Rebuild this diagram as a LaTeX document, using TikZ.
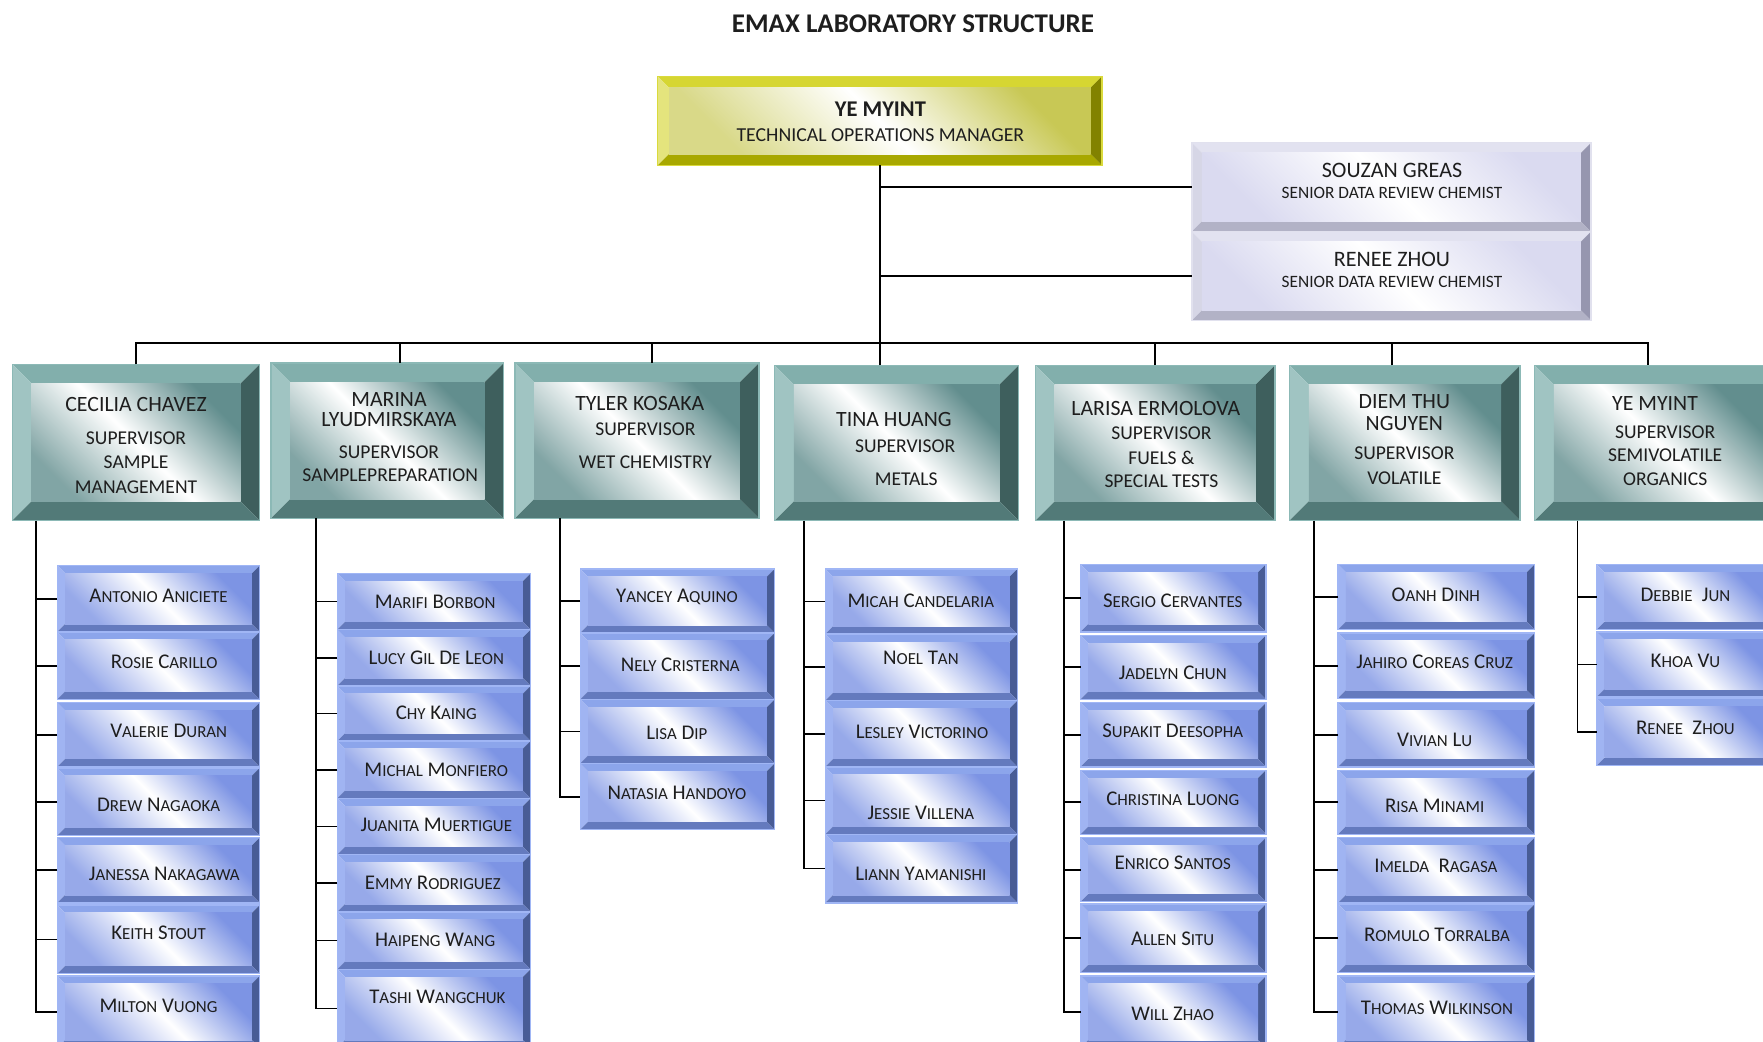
\documentclass[tikz,border=0pt]{standalone}
\usepackage{fontspec}
\setmainfont{Carlito}
% yellow
\definecolor{ylt}{RGB}{214,214,50}
\definecolor{yll}{RGB}{228,228,125}
\definecolor{ylr}{RGB}{130,130,0}
\definecolor{ylb}{RGB}{168,168,0}
\definecolor{yle}{RGB}{218,218,60}
\definecolor{ylc}{RGB}{200,200,85}
% teal
\definecolor{tlt}{RGB}{130,175,172}
\definecolor{tll}{RGB}{160,196,194}
\definecolor{tlr}{RGB}{62,95,93}
\definecolor{tlb}{RGB}{82,122,120}
\definecolor{tle}{RGB}{140,185,182}
\definecolor{tlc}{RGB}{98,142,142}
% blue
\definecolor{blt}{RGB}{140,165,235}
\definecolor{bll}{RGB}{160,180,242}
\definecolor{blr}{RGB}{72,92,150}
\definecolor{blb}{RGB}{100,122,190}
\definecolor{ble}{RGB}{160,182,245}
\definecolor{blc}{RGB}{125,148,228}
% lavender
\definecolor{lvt}{RGB}{226,226,240}
\definecolor{lvl}{RGB}{214,214,230}
\definecolor{lvr}{RGB}{150,150,175}
\definecolor{lvb}{RGB}{178,178,198}
\definecolor{lve}{RGB}{225,225,238}
\definecolor{lvc}{RGB}{218,218,240}
\definecolor{txt}{RGB}{30,30,30}
\tikzset{
  yls/.style={top color=ylc, bottom color=ylc!70, middle color=white, shading angle=-45},
  tls/.style={top color=tlc, bottom color=tlc!80, middle color=white, shading angle=-45},
  bls/.style={top color=blc, bottom color=blc!80, middle color=white, shading angle=-45},
  lvs/.style={top color=lvc, bottom color=lvc, middle color=white, shading angle=-45},
  con/.style={draw=black, line width=0.8pt},
  ttl/.style={font=\bfseries\fontsize{12}{14}\selectfont, text=txt, inner sep=0pt},
  topn/.style={font=\bfseries\fontsize{10}{12}\selectfont, text=txt, inner sep=0pt},
  tops/.style={font=\fontsize{8.8}{10}\selectfont, text=txt, inner sep=0pt},
  svn/.style={font=\fontsize{9.7}{11}\selectfont, text=txt, inner sep=0pt},
  svs/.style={font=\fontsize{8.7}{10}\selectfont, text=txt, inner sep=0pt},
  lvn/.style={font=\fontsize{9.8}{11}\selectfont, text=txt, inner sep=0pt},
  lvsub/.style={font=\fontsize{7.7}{9}\selectfont, text=txt, inner sep=0pt},
  stf/.style={font=\fontsize{9.3}{11}\selectfont, text=txt, inner sep=0pt},
}
\newcommand\lsc[1]{{\fontsize{7.5}{9}\selectfont #1}}
% bevelled box: name, x1, y1, x2, y2, bevel, colour prefix
\newcommand\bev[7]{%
  \fill[#7t] (#2,#3) -- (#4,#3) -- ({#4-#6},{#3+#6}) -- ({#2+#6},{#3+#6}) -- cycle;
  \fill[#7l] (#2,#3) -- ({#2+#6},{#3+#6}) -- ({#2+#6},{#5-#6}) -- (#2,#5) -- cycle;
  \fill[#7r] (#4,#3) -- (#4,#5) -- ({#4-#6},{#5-#6}) -- ({#4-#6},{#3+#6}) -- cycle;
  \fill[#7b] (#2,#5) -- (#4,#5) -- ({#4-#6},{#5-#6}) -- ({#2+#6},{#5-#6}) -- cycle;
  \shade[#7s] ({#2+#6},{#3+#6}) rectangle ({#4-#6},{#5-#6});
  \draw[#7e, line width=0.6pt] (#2,#3) rectangle (#4,#5);
  \node[inner sep=0pt, outer sep=0pt, minimum width={(#4-#2)*0.5pt}, minimum height={(#5-#3)*0.5pt}] (#1) at ({(#2+#4)/2},{(#3+#5)/2}) {};
}
% staff box: name, x1, y1, x2, y2, label x, label y, text
\newcommand\stf[8]{%
  \bev{#1}{#2}{#3}{#4}{#5}{7}{bl}
  \node[stf] (#1t) at (#6,#7) {#8};
}
\begin{document}
\begin{tikzpicture}[x=0.5pt,y=-0.5pt]
\useasboundingbox (0,0) rectangle (1568,926);
\fill[white] (0,0) rectangle (1568,926);

\node[ttl] (title) at (812,21) {EMAX LABORATORY STRUCTURE};

% top manager
\bev{top}{585}{68}{980}{147}{10}{yl}
\node[topn] (topa) at (783,97) {YE MYINT};
\node[tops] (topb) at (783,120) {TECHNICAL OPERATIONS MANAGER};

% data review chemists
\bev{souzan}{1060}{127}{1415}{206}{9}{lv}
\node[lvn] (souzana) at (1238,152) {SOUZAN GREAS};
\node[lvsub] (souzanb) at (1238,172) {SENIOR DATA REVIEW CHEMIST};
\bev{renee}{1060}{206}{1415}{285}{9}{lv}
\node[lvn] (reneea) at (1238,231) {RENEE ZHOU};
\node[lvsub] (reneeb) at (1238,251) {SENIOR DATA REVIEW CHEMIST};

% supervisors
\bev{sv1}{11}{324}{231}{463}{17}{tl}
\node[svn] (sv1a) at (121,360) {CECILIA CHAVEZ};
\node[svs] (sv1b) at (121,390) {SUPERVISOR};
\node[svs] (sv1c) at (121,411) {SAMPLE};
\node[svs] (sv1d) at (121,433) {MANAGEMENT};

\bev{sv2}{241}{323}{448}{461}{17}{tl}
\node[svn] (sv2a) at (346,355) {MARINA};
\node[svn] (sv2b) at (346,373) {LYUDMIRSKAYA};
\node[svs] (sv2c) at (346,402) {SUPERVISOR};
\node[svs] (sv2d) at (347,423) {SAMPLEPREPARATION};

\bev{sv3}{458}{323}{675}{461}{17}{tl}
\node[svn] (sv3a) at (569,359) {TYLER KOSAKA};
\node[svs] (sv3b) at (574,382) {SUPERVISOR};
\node[svs] (sv3c) at (574,411) {WET CHEMISTRY};

\bev{sv4}{689}{325}{906}{463}{17}{tl}
\node[svn] (sv4a) at (795,373) {TINA HUANG};
\node[svs] (sv4b) at (805,397) {SUPERVISOR};
\node[svs] (sv4c) at (806,426) {METALS};

\bev{sv5}{921}{325}{1134}{463}{17}{tl}
\node[svn] (sv5a) at (1028,363) {LARISA ERMOLOVA};
\node[svs] (sv5b) at (1033,385) {SUPERVISOR};
\node[svs] (sv5c) at (1033,407) {FUELS \&};
\node[svs] (sv5d) at (1033,428) {SPECIAL TESTS};

\bev{sv6}{1147}{325}{1352}{463}{17}{tl}
\node[svn] (sv6a) at (1249,357) {DIEM THU};
\node[svn] (sv6b) at (1249,377) {NGUYEN};
\node[svs] (sv6c) at (1249,403) {SUPERVISOR};
\node[svs] (sv6d) at (1249,425) {VOLATILE};

\bev{sv7}{1365}{325}{1585}{463}{17}{tl}
\node[svn] (sv7a) at (1472,359) {YE MYINT};
\node[svs] (sv7b) at (1481,384) {SUPERVISOR};
\node[svs] (sv7c) at (1481,405) {SEMIVOLATILE};
\node[svs] (sv7d) at (1481,426) {ORGANICS};

% staff column 1
\stf{s1a}{51}{503}{231}{562}{141}{530}{A\lsc{NTONIO} A\lsc{NICIETE}}
\stf{s1b}{51}{562}{231}{622}{146}{589}{R\lsc{OSIE} C\lsc{ARILLO}}
\stf{s1c}{51}{625}{231}{682}{150}{650}{V\lsc{ALERIE} D\lsc{URAN}}
\stf{s1d}{51}{683}{231}{743}{141}{716}{D\lsc{REW} N\lsc{AGAOKA}}
\stf{s1e}{51}{745}{231}{803}{146}{777}{J\lsc{ANESSA} N\lsc{AKAGAWA}}
\stf{s1f}{51}{805}{231}{866}{141}{830}{K\lsc{EITH} S\lsc{TOUT}}
\stf{s1g}{51}{868}{231}{932}{141}{895}{M\lsc{ILTON} V\lsc{UONG}}

% staff column 2
\stf{s2a}{300}{510}{472}{560}{387}{535}{M\lsc{ARIFI} B\lsc{ORBON}}
\stf{s2b}{300}{560}{472}{610}{388}{585}{L\lsc{UCY} G\lsc{IL} D\lsc{E} L\lsc{EON}}
\stf{s2c}{300}{610}{472}{659}{388}{634}{C\lsc{HY} K\lsc{AING}}
\stf{s2d}{300}{659}{472}{710}{388}{685}{M\lsc{ICHAL} M\lsc{ONFIERO}}
\stf{s2e}{300}{710}{472}{760}{388}{734}{J\lsc{UANITA} M\lsc{UERTIGUE}}
\stf{s2f}{300}{760}{472}{811}{385}{785}{E\lsc{MMY} R\lsc{ODRIGUEZ}}
\stf{s2g}{300}{811}{472}{862}{387}{836}{H\lsc{AIPENG} W\lsc{ANG}}
\stf{s2h}{300}{862}{472}{932}{389}{887}{T\lsc{ASHI} W\lsc{ANGCHUK}}

% staff column 3
\stf{s3a}{516}{506}{689}{563}{602}{531}{Y\lsc{ANCEY} A\lsc{QUINO}}
\stf{s3b}{516}{563}{689}{622}{605}{591}{N\lsc{ELY} C\lsc{RISTERNA}}
\stf{s3c}{516}{622}{689}{679}{602}{652}{L\lsc{ISA} D\lsc{IP}}
\stf{s3d}{516}{679}{689}{738}{602}{705}{N\lsc{ATASIA} H\lsc{ANDOYO}}

% staff column 4
\stf{s4a}{734}{506}{905}{564}{819}{534}{M\lsc{ICAH} C\lsc{ANDELARIA}}
\stf{s4b}{734}{564}{905}{623}{819}{585}{N\lsc{OEL} T\lsc{AN}}
\stf{s4c}{734}{623}{905}{682}{820}{651}{L\lsc{ESLEY} V\lsc{ICTORINO}}
\stf{s4d}{734}{682}{905}{742}{819}{723}{J\lsc{ESSIE} V\lsc{ILLENA}}
\stf{s4e}{734}{742}{905}{803}{819}{777}{L\lsc{IANN} Y\lsc{AMANISHI}}

% staff column 5
\stf{s5a}{961}{502}{1126}{562}{1043}{534}{S\lsc{ERGIO} C\lsc{ERVANTES}}
\stf{s5b}{961}{565}{1126}{622}{1043}{598}{J\lsc{ADELYN} C\lsc{HUN}}
\stf{s5c}{961}{625}{1126}{682}{1043}{650}{S\lsc{UPAKIT} D\lsc{EESOPHA}}
\stf{s5d}{961}{685}{1126}{742}{1043}{710}{C\lsc{HRISTINA} L\lsc{UONG}}
\stf{s5e}{961}{745}{1126}{802}{1043}{767}{E\lsc{NRICO} S\lsc{ANTOS}}
\stf{s5f}{961}{804}{1126}{865}{1043}{835}{A\lsc{LLEN} S\lsc{ITU}}
\stf{s5g}{961}{868}{1126}{932}{1043}{902}{W\lsc{ILL} Z\lsc{HAO}}

% staff column 6
\stf{s6a}{1190}{502}{1365}{560}{1277}{529}{O\lsc{ANH} D\lsc{INH}}
\stf{s6b}{1190}{563}{1365}{621}{1276}{589}{J\lsc{AHIRO} C\lsc{OREAS} C\lsc{RUZ}}
\stf{s6c}{1190}{625}{1365}{682}{1276}{658}{V\lsc{IVIAN} L\lsc{U}}
\stf{s6d}{1190}{685}{1365}{742}{1276}{717}{R\lsc{ISA} M\lsc{INAMI}}
\stf{s6e}{1190}{745}{1365}{803}{1277}{770}{I\lsc{MELDA}\ \ R\lsc{AGASA}}
\stf{s6f}{1190}{804}{1365}{865}{1278}{831}{R\lsc{OMULO} T\lsc{ORRALBA}}
\stf{s6g}{1190}{868}{1365}{932}{1278}{896}{T\lsc{HOMAS} W\lsc{ILKINSON}}

% staff column 7
\stf{s7a}{1420}{502}{1580}{560}{1499}{529}{D\lsc{EBBIE}\ \ J\lsc{UN}}
\stf{s7b}{1420}{562}{1580}{620}{1499}{588}{K\lsc{HOA} V\lsc{U}}
\stf{s7c}{1420}{621}{1580}{681}{1499}{647}{R\lsc{ENEE}\ \ Z\lsc{HOU}}

% ---- connectors ----
\coordinate (bus) at (0,305);
\coordinate (d1) at (sv1.north);
\coordinate (d2) at ([xshift=5.75pt]sv2.north);
\coordinate (d3) at ([xshift=6.75pt]sv3.north);
\coordinate (d4) at ([xshift=-7.25pt]sv4.north);
\coordinate (d5) at (sv5.north);
\coordinate (d6) at ([xshift=-5.75pt]sv6.north);
\coordinate (d7) at ([xshift=-4.5pt]sv7.north);
\draw[con] (top.south) -- (top.south |- bus);
\draw[con] (d1) -- (d1 |- bus) -- (d7 |- bus) -- (d7);
\foreach \i in {2,...,6} \draw[con] (d\i) -- (d\i |- bus);
\draw[con] (souzan.west) -- (souzan.west -| top.south);
\draw[con] (renee.west) -- (renee.west -| top.south);

\coordinate (c1) at ([xshift=10.5pt]sv1.south west);
\coordinate (c2) at ([xshift=20pt]sv2.south west);
\coordinate (c3) at ([xshift=20pt]sv3.south west);
\coordinate (c4) at ([xshift=13pt]sv4.south west);
\coordinate (c5) at ([xshift=12.5pt]sv5.south west);
\coordinate (c6) at ([xshift=11pt]sv6.south west);
\coordinate (c7) at ([xshift=19pt]sv7.south west);

\draw[con] (c1) |- (s1g.west);
\foreach \s in {s1a,s1b,s1c,s1d,s1e,s1f} \draw[con] (\s.west) -- (\s.west -| c1);
\draw[con] (c2) |- (s2h.west);
\foreach \s in {s2a,s2b,s2c,s2d,s2e,s2f,s2g} \draw[con] (\s.west) -- (\s.west -| c2);
\draw[con] (c3) |- (s3d.west);
\foreach \s in {s3a,s3b,s3c} \draw[con] (\s.west) -- (\s.west -| c3);
\draw[con] (c4) |- (s4e.west);
\foreach \s in {s4a,s4b,s4c,s4d} \draw[con] (\s.west) -- (\s.west -| c4);
\draw[con] (c5) |- (s5g.west);
\foreach \s in {s5a,s5b,s5c,s5d,s5e,s5f} \draw[con] (\s.west) -- (\s.west -| c5);
\draw[con] (c6) |- (s6g.west);
\foreach \s in {s6a,s6b,s6c,s6d,s6e,s6f} \draw[con] (\s.west) -- (\s.west -| c6);
\draw[con] (c7) |- (s7c.west);
\foreach \s in {s7a,s7b} \draw[con] (\s.west) -- (\s.west -| c7);
\end{tikzpicture}
\end{document}
